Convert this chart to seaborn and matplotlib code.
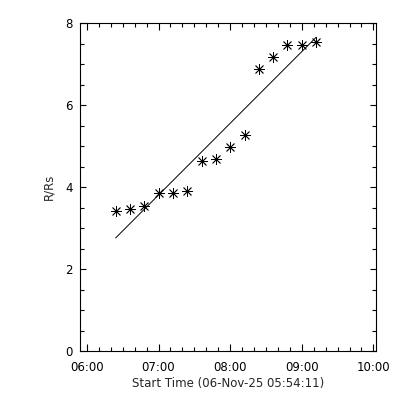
import numpy as np
import pandas as pd
import seaborn as sns
import matplotlib
matplotlib.use("Agg")
import matplotlib.pyplot as plt
import matplotlib.dates as mdates

times = ["06:24", "06:36", "06:48", "07:00", "07:12", "07:24", "07:36", "07:48",
         "08:00", "08:12", "08:24", "08:36", "08:48", "09:00", "09:12"]
heights = [3.41, 3.46, 3.54, 3.85, 3.85, 3.90, 4.63, 4.68,
           4.97, 5.27, 6.87, 7.18, 7.46, 7.46, 7.53]
start_time = "2025-11-06 05:54:11"
end_time = "2025-11-06 10:02:10"
y_ticks = [0, 2, 4, 6, 8]

t0 = pd.Timestamp(start_time)
df = pd.DataFrame({"time": pd.to_datetime(["2025-11-06 " + t for t in times]),
                   "R": heights})
hrs = (df["time"] - t0).dt.total_seconds() / 3600.0

# linear fit of height vs time
coef = np.polyfit(hrs, df["R"], 1)
df["fit"] = np.polyval(coef, hrs)

sns.set_style("ticks")
plt.rcParams["font.family"] = ["DejaVu Sans"]
plt.rcParams["font.size"] = 8.5

fig = plt.figure(figsize=(4, 4), dpi=100)
ax = fig.add_axes([0.2, 0.1225, 0.74, 0.82])

sns.lineplot(data=df, x="time", y="fit", color="black", linewidth=0.7, ax=ax)
sns.scatterplot(data=df, x="time", y="R", marker=(8, 2, 0), s=55,
                color="black", edgecolor="black", linewidth=0.6, ax=ax)

ax.set_xlim(t0, pd.Timestamp(end_time))
ax.set_ylim(0, 8)
ax.set_yticks(y_ticks)
ax.yaxis.set_minor_locator(matplotlib.ticker.MultipleLocator(0.5))
ax.xaxis.set_major_locator(mdates.HourLocator())
ax.xaxis.set_minor_locator(mdates.MinuteLocator(byminute=[10, 20, 30, 40, 50]))
ax.xaxis.set_major_formatter(mdates.DateFormatter("%H:%M"))

for side in ax.spines.values():
    side.set_linewidth(0.8)
    side.set_color("black")
ax.tick_params(axis="both", which="both", direction="in", top=True, right=True,
               colors="black", width=0.8, labelsize=8.5)
ax.tick_params(axis="x", which="major", length=4.8, pad=7)
ax.tick_params(axis="x", which="minor", length=2.6)
ax.tick_params(axis="y", which="major", length=4.3, pad=5)
ax.tick_params(axis="y", which="minor", length=2.6)

ax.set_xlabel("Start Time (06-Nov-25 05:54:11)", fontsize=8.5, labelpad=2)
ax.set_ylabel("R/Rs", fontsize=8.5, labelpad=7)

fig.savefig("out.png", dpi=100, facecolor="white")
